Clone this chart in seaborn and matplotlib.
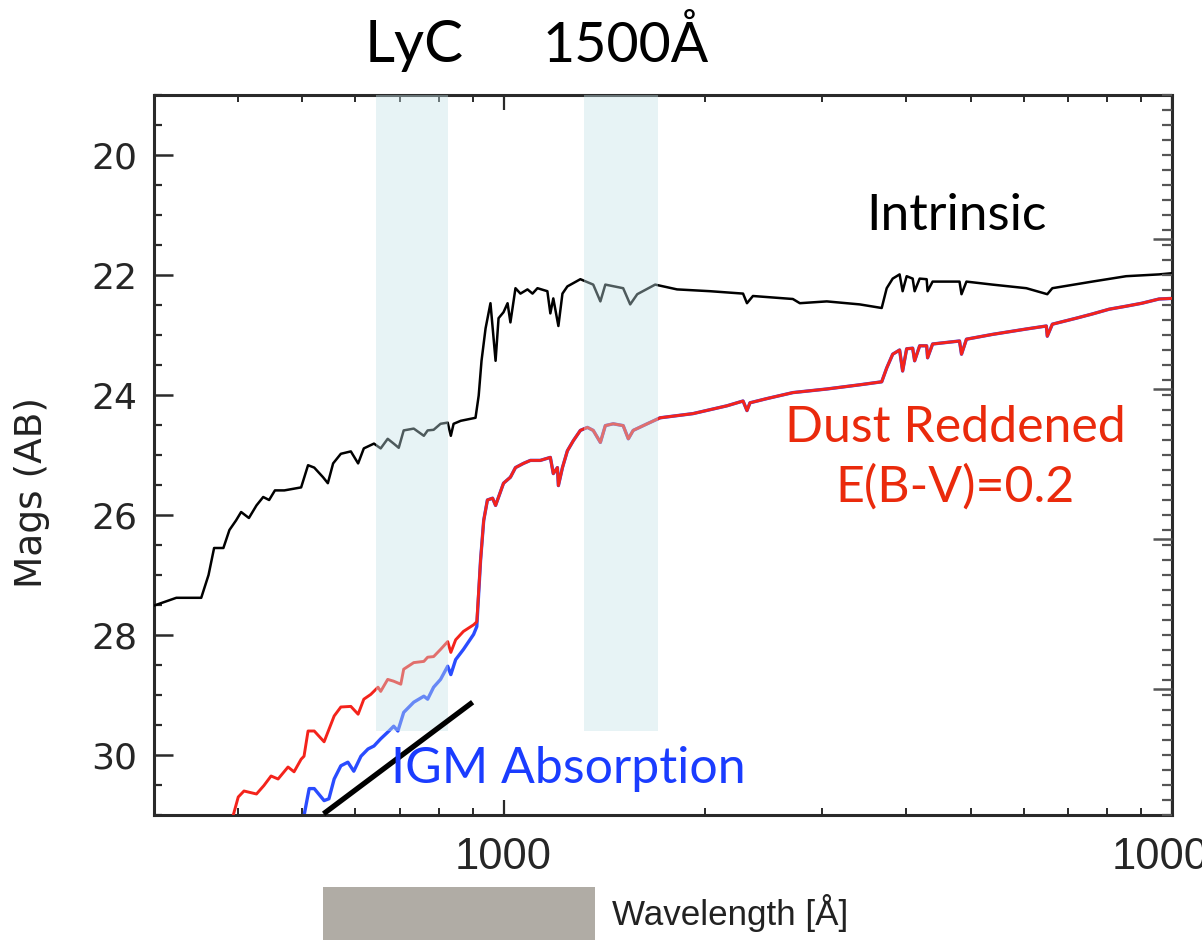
import numpy as np
import pandas as pd
import matplotlib
matplotlib.use("Agg")
import matplotlib.pyplot as plt
from matplotlib import font_manager
from matplotlib.ticker import FixedLocator, FixedFormatter, NullFormatter
from matplotlib.patches import Rectangle
import seaborn as sns

# ---------------------------------------------------------------- data
# Intrinsic stellar spectrum (wavelength in Angstrom, AB magnitude)
intrinsic_wave = [300, 324, 353, 362, 369, 381, 389, 398, 405, 416,
                  427, 437, 446, 455, 470, 498, 510, 521, 537, 546,
                  556, 571, 591, 606, 618, 640, 655, 671, 685, 697,
                  709, 734, 760, 770, 786, 805, 825, 834, 842, 863,
                  908, 918, 927, 940, 956, 973, 983, 1000, 1014, 1024,
                  1042, 1060, 1086, 1105, 1124, 1163, 1175, 1187, 1208, 1225,
                  1246, 1303, 1362, 1396, 1420, 1510, 1547, 1585, 1686, 1818,
                  2037, 2282, 2313, 2361, 2709, 2775, 3045, 3411, 3679, 3743,
                  3821, 3913, 3954, 4009, 4093, 4121, 4193, 4295, 4309, 4384,
                  4810, 4843, 4926, 5387, 6055, 6508, 6622, 7597, 8539, 9563,
                  10000]
intrinsic_mag = [27.51, 27.38, 27.38, 27.00, 26.55, 26.55, 26.25, 26.09, 25.95, 26.05,
                 25.84, 25.70, 25.75, 25.59, 25.59, 25.54, 25.17, 25.21, 25.37, 25.47,
                 25.14, 24.98, 24.94, 25.14, 24.89, 24.81, 24.89, 24.73, 24.81, 24.88,
                 24.59, 24.56, 24.68, 24.59, 24.58, 24.48, 24.46, 24.68, 24.48, 24.43,
                 24.38, 24.01, 23.43, 22.89, 22.47, 23.43, 22.72, 22.62, 22.47, 22.79,
                 22.22, 22.31, 22.24, 22.31, 22.22, 22.27, 22.64, 22.39, 22.85, 22.31,
                 22.19, 22.07, 22.16, 22.44, 22.16, 22.22, 22.49, 22.32, 22.16, 22.24,
                 22.27, 22.31, 22.47, 22.35, 22.40, 22.47, 22.44, 22.49, 22.55, 22.22,
                 22.06, 21.99, 22.27, 22.02, 22.06, 22.27, 22.06, 22.07, 22.27, 22.11,
                 22.11, 22.32, 22.11, 22.16, 22.22, 22.32, 22.22, 22.11, 22.02, 21.99,
                 21.97]

# Same spectrum after dust reddening with E(B-V)=0.2
reddened_wave = [394, 401, 409, 427, 438, 449, 460, 476, 486, 498,
                 503, 510, 521, 539, 558, 571, 591, 606, 618, 633,
                 649, 655, 671, 685, 702, 709, 734, 760, 770, 786,
                 805, 825, 834, 848, 871, 902, 912, 924, 934, 946,
                 963, 973, 1000, 1024, 1042, 1071, 1097, 1135, 1175, 1187,
                 1204, 1208, 1225, 1246, 1272, 1303, 1335, 1362, 1396, 1420,
                 1459, 1510, 1537, 1563, 1640, 1715, 1921, 2159, 2282, 2313,
                 2337, 2477, 2709, 3045, 3411, 3679, 3743, 3821, 3913, 3954,
                 4009, 4093, 4121, 4193, 4295, 4309, 4384, 4810, 4843, 4926,
                 5387, 6055, 6486, 6508, 6622, 7190, 7597, 8054, 8539, 9020,
                 9563, 10000]
reddened_mag = [31.01, 30.70, 30.60, 30.65, 30.51, 30.35, 30.40, 30.20, 30.28, 30.07,
                30.02, 29.60, 29.60, 29.78, 29.35, 29.20, 29.19, 29.32, 29.07, 28.99,
                28.87, 28.94, 28.74, 28.77, 28.82, 28.57, 28.46, 28.44, 28.37, 28.36,
                28.24, 28.11, 28.29, 28.08, 27.94, 27.83, 27.78, 26.75, 26.09, 25.75,
                25.72, 25.84, 25.47, 25.37, 25.21, 25.14, 25.09, 25.09, 25.04, 25.31,
                25.21, 25.51, 25.21, 24.93, 24.76, 24.59, 24.54, 24.59, 24.79, 24.51,
                24.48, 24.51, 24.73, 24.59, 24.48, 24.38, 24.31, 24.18, 24.10, 24.26,
                24.13, 24.06, 23.96, 23.90, 23.83, 23.78, 23.55, 23.32, 23.25, 23.60,
                23.23, 23.22, 23.43, 23.18, 23.18, 23.38, 23.15, 23.10, 23.32, 23.07,
                22.99, 22.90, 22.85, 23.02, 22.82, 22.72, 22.65, 22.57, 22.52, 22.47,
                22.40, 22.39]

# Extra intergalactic absorption shortward of the Lyman limit
igm_wave = [503, 512, 521, 539, 548, 558, 571, 585, 597, 612,
            627, 640, 655, 671, 685, 695, 709, 734, 760, 770,
            786, 805, 825, 834, 848, 871, 902, 912]
igm_mag = [31.01, 30.56, 30.56, 30.76, 30.73, 30.40, 30.18, 30.12, 30.27, 30.02,
           29.90, 29.85, 29.73, 29.62, 29.52, 29.60, 29.29, 29.12, 29.02, 29.07,
           28.87, 28.74, 28.52, 28.66, 28.41, 28.24, 27.99, 27.86]

lyman_limit = 912

# Filter windows: Lyman continuum and rest-frame 1500 A
band_lyc = [645, 825]
band_1500 = [1320, 1700]
band_mag_range = [19.0, 29.6]

# Guide line marking the IGM slope
slope_wave = [538, 899]
slope_mag = [30.98, 29.12]

# Axis ticks
x_limits = [300, 10000]
y_limits = [31, 19]
x_major = [1000, 10000]
x_major_labels = ["1000", "10000"]
x_minor = [300, 400, 500, 600, 700, 800, 900,
           2000, 3000, 4000, 5000, 6000, 7000, 8000, 9000]
y_major = [20, 22, 24, 26, 28, 30]
y_major_labels = ["20", "22", "24", "26", "28", "30"]
y_minor_step = 0.5
flux_major_mag = [21.4, 23.9, 26.4, 28.9]
flux_minor_step = 0.25

assert len(intrinsic_wave) == len(intrinsic_mag)
assert len(reddened_wave) == len(reddened_mag)
assert len(igm_wave) == len(igm_mag)

# ---------------------------------------------------------------- style
sns.set_style("white")
installed = set(font_manager.get_font_names())
title_font = "Lato" if "Lato" in installed else "DejaVu Sans"
narrow_font = ("Liberation Sans Narrow" if "Liberation Sans Narrow" in installed
               else "Liberation Sans")
narrow_scale = 1.0 if narrow_font == "Liberation Sans Narrow" else 0.84
plt.rcParams["font.family"] = ["DejaVu Sans"]

W, H = 1202, 940
fig = plt.figure(figsize=(W / 100, H / 100), dpi=100)
fig.patch.set_facecolor("white")

left, right, top, bottom = 154, 1172, 95, 815
ax = fig.add_axes([left / W, 1 - bottom / H, (right - left) / W, (bottom - top) / H])
ax.set_facecolor("white")

intrinsic = pd.DataFrame({"wave": intrinsic_wave, "mag": intrinsic_mag})
reddened = pd.DataFrame({"wave": reddened_wave, "mag": reddened_mag})
red_long = reddened[reddened["wave"] > lyman_limit]
igm = pd.concat([pd.DataFrame({"wave": igm_wave, "mag": igm_mag}), red_long],
                ignore_index=True)

RED = "#f4231b"
BLUE = "#2a4cff"

sns.lineplot(data=igm, x="wave", y="mag", ax=ax, color=BLUE, lw=2.4,
             estimator=None, sort=False, zorder=2)
sns.lineplot(data=reddened, x="wave", y="mag", ax=ax, color=RED, lw=2.1,
             estimator=None, sort=False, zorder=3)
sns.lineplot(data=intrinsic, x="wave", y="mag", ax=ax, color="black", lw=1.8,
             estimator=None, sort=False, zorder=4)

# translucent filter windows laid over the spectra
for band in (band_lyc, band_1500):
    ax.fill_betweenx(band_mag_range, band[0], band[1], color="#c5e3e8",
                     alpha=0.4, lw=0, zorder=5)

ax.plot(slope_wave, slope_mag, color="black", lw=3.8, solid_capstyle="butt",
        zorder=6, clip_on=False)

ax.set_xscale("log")
ax.set_xlim(*x_limits)
ax.set_ylim(*y_limits)
ax.set_xlabel("")
ax.set_ylabel("")

ax.xaxis.set_major_locator(FixedLocator(x_major))
ax.xaxis.set_major_formatter(FixedFormatter(x_major_labels))
ax.xaxis.set_minor_locator(FixedLocator(x_minor))
ax.xaxis.set_minor_formatter(NullFormatter())
ax.yaxis.set_major_locator(FixedLocator(y_major))
ax.yaxis.set_major_formatter(FixedFormatter(y_major_labels))
ax.yaxis.set_minor_locator(FixedLocator(
    [v for v in np.arange(19.0, 31.01, y_minor_step) if v not in y_major]))

AXC = "#2a2a2a"
for side in ("left", "right", "top", "bottom"):
    ax.spines[side].set_visible(True)
    ax.spines[side].set_color(AXC)
    ax.spines[side].set_linewidth(2.2)

ax.tick_params(axis="x", which="both", direction="in", top=True, bottom=True,
               color=AXC, labelsize=33 * (0.95 if narrow_scale < 1 else 1.0), pad=16)
ax.tick_params(axis="x", which="major", length=11, width=1.6)
ax.tick_params(axis="x", which="minor", length=5, width=1.4)
ax.tick_params(axis="y", which="both", direction="in", left=True, right=False,
               color=AXC, labelsize=26, pad=12)
ax.tick_params(axis="y", which="major", length=14, width=1.8)
ax.tick_params(axis="y", which="minor", length=6, width=1.6)
for lab in ax.get_xticklabels():
    lab.set_family(narrow_font)

# flux scale on the right-hand side: one decade per 2.5 mag
ax2 = ax.twinx()
ax2.set_ylim(*y_limits)
ax2.yaxis.set_major_locator(FixedLocator(flux_major_mag))
ax2.yaxis.set_major_formatter(NullFormatter())
ax2.yaxis.set_minor_locator(FixedLocator(
    [v for v in np.arange(19.0, 31.01, flux_minor_step)
     if all(abs(v - m) > 0.05 for m in flux_major_mag)]))
ax2.tick_params(axis="y", which="both", direction="in", color="#555555")
ax2.tick_params(axis="y", which="major", length=14, width=1.8)
ax2.tick_params(axis="y", which="minor", length=7, width=1.6)
for side in ax2.spines.values():
    side.set_visible(False)
ax2.grid(False)

# axis titles
fig.text(32 / W, 1 - 492 / H, "Mags (AB)", rotation=90, ha="center", va="center",
         fontsize=27, color="#222222", family="DejaVu Sans")
fig.text(612 / W, 1 - 925 / H, "Wavelength [Å]", ha="left", va="baseline",
         fontsize=30 * narrow_scale, color="#222222", family=narrow_font)
fig.patches.append(Rectangle((323 / W, 0), 272 / W, 53 / H, transform=fig.transFigure,
                             facecolor="#b0aca5", edgecolor="none", zorder=10))

# labels
fig.text(414 / W, 1 - 62 / H, "LyC", ha="center", va="baseline",
         fontsize=42, family=title_font, color="black")
fig.text(626 / W, 1 - 62 / H, "1500Å", ha="center", va="baseline",
         fontsize=40, family=title_font, color="black")
fig.text(956 / W, 1 - 230 / H, "Intrinsic", ha="center", va="baseline",
         fontsize=37, family=title_font, color="black")
fig.text(955 / W, 1 - 442 / H, "Dust Reddened", ha="center", va="baseline",
         fontsize=36, family=title_font, color="#ea2a0c")
fig.text(955 / W, 1 - 502 / H, "E(B-V)=0.2", ha="center", va="baseline",
         fontsize=36, family=title_font, color="#ea2a0c")
fig.text(568 / W, 1 - 783 / H, "IGM Absorption", ha="center", va="baseline",
         fontsize=36, family=title_font, color="#1a3cff")

fig.savefig("out.png", dpi=100, facecolor="white")
